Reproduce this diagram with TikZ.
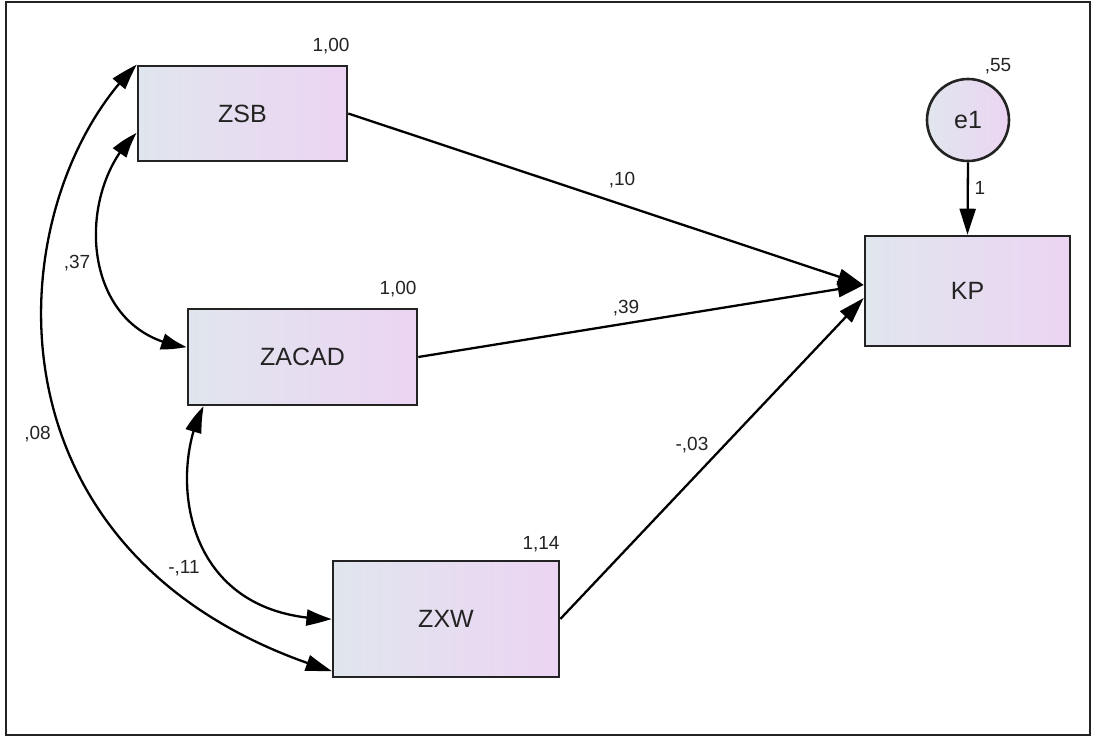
\documentclass[tikz,border=0pt]{standalone}
\usepackage{fontspec}
\setmainfont{Liberation Sans}
\usetikzlibrary{arrows.meta,bending}
\definecolor{boxL}{RGB}{224,230,237}
\definecolor{boxR}{RGB}{236,212,243}
\definecolor{ink}{RGB}{35,35,35}
\tikzset{
  var/.style={draw=ink, line width=2.6pt, left color=boxL, right color=boxR,
    font=\fontsize{25}{25}\selectfont, text=ink, inner sep=0pt},
  errvar/.style={var, circle, minimum size=82pt},
  est/.style={font=\fontsize{19}{19}\selectfont, text=ink, inner sep=0pt},
  tip/.tip={Triangle[length=26pt,width=16pt]},
  path/.style={line width=2.3pt, -{tip}},
  cov/.style={line width=2.3pt, {tip[bend]}-{tip[bend]}}
}
\begin{document}
\begin{tikzpicture}[x=1pt,y=-1pt]
\useasboundingbox (0,0) rectangle (1096,737);
\draw[line width=1.8pt, ink] (6,2) rectangle (1090,735);

% observed variables
\node[var, minimum width=209pt, minimum height=95pt] (zsb) at (242.5,113.5) {ZSB};
\node[var, minimum width=229pt, minimum height=96pt] (zacad) at (302.5,357) {ZACAD};
\node[var, minimum width=226pt, minimum height=116pt] (zxw) at (446,619) {ZXW};
\node[var, minimum width=205pt, minimum height=110pt] (kp) at (967.5,291) {KP};
% residual
\node[errvar] (e1) at (968,120) {e1};

% variance estimates
\node[est] (vzsb) at (331,46) {1,00};
\node[est] (vzacad) at (398,289) {1,00};
\node[est] (vzxw) at (541,544) {1,14};
\node[est] (ve1) at (998,66) {,55};

% regression paths
\draw[path] (zsb.east) -- ([yshift=6pt]kp.west);
\draw[path] (zacad.east) -- ([yshift=6pt]kp.west);
\draw[path] (zxw.east) -- ([yshift=-7pt]kp.west);
\draw[path] (e1.south) -- (kp.north);

\node[est] (w1) at (622,180) {,10};
\node[est] (w2) at (626,308) {,39};
\node[est] (w3) at (692,445) {-,03};
\node[est] (w4) at (980,188) {1};

% covariances
\draw[cov] ([yshift=-19.5pt]zsb.west) .. controls +(-63,57) and +(-108,-12) .. ([yshift=10pt]zacad.west);
\draw[cov] (zsb.north west) .. controls +(-138,134) and +(-363,-111) .. ([yshift=-52pt]zxw.west);
\draw[cov] ([xshift=17pt]zacad.south west) .. controls +(-35,63) and +(-153,0) .. (zxw.west);

\node[est] (c1) at (77,263) {,37};
\node[est] (c2) at (37.5,434) {,08};
\node[est] (c3) at (184,568) {-,11};
\end{tikzpicture}
\end{document}
